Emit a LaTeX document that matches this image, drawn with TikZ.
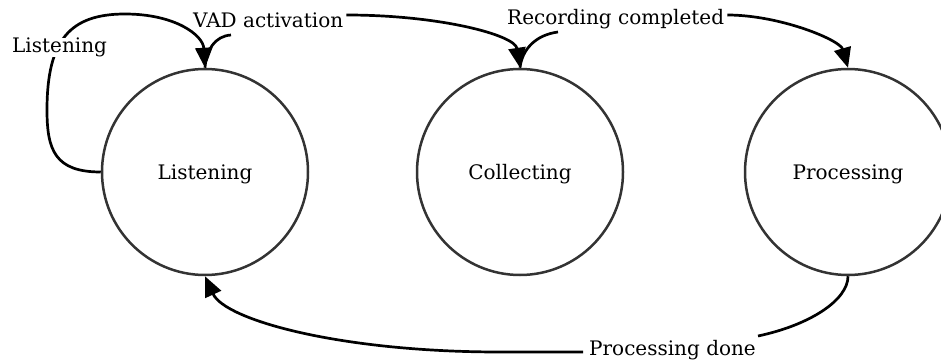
\documentclass[tikz,border=0pt]{standalone}
\usepackage{fontspec}
\setmainfont{DejaVu Serif}
\usetikzlibrary{arrows.meta}
\definecolor{stategray}{HTML}{333333}
\begin{document}
\begin{tikzpicture}[x=1pt,y=-1pt,
  font=\fontsize{20}{24}\selectfont,
  state/.style={circle,draw=stategray,line width=2.5pt,minimum size=206pt,
    inner sep=0pt,text height=16pt,text depth=0pt},
  trans/.style={line width=2.7pt,draw=black},
  tip/.style={-{Triangle[length=20pt,width=17pt]}},
  lbl/.style={inner sep=0pt,anchor=base west,fill=white}]
\useasboundingbox (0,0) rectangle (941,363);

% states
\node[state] (listen)  at (205,172) {Listening};
\node[state] (collect) at (520,172) {Collecting};
\node[state] (process) at (848,172) {Processing};

% self loop on Listening
\draw[trans,tip] (listen.west) .. controls (55,172) and (47,150) .. (47,110)
  .. controls (47,40) and (70,14) .. (125,14)
  .. controls (175,14) and (203,35) .. (listen.north);

% transition labels
\node[lbl] (loopl)  at (12,53)   {Listening};
\node[lbl] (vad)    at (193,28)  {VAD activation};
\node[lbl] (rec)    at (507,25)  {Recording completed};
\node[lbl] (pdone)  at (589,355) {Processing done};

% attachment points on the labels
\coordinate (vadin)   at ([shift={(38,7)}]vad.base west);
\coordinate (vadout)  at ([shift={(3,-13)}]vad.base east);
\coordinate (recin)   at ([shift={(51,7)}]rec.base west);
\coordinate (recout)  at ([shift={(3,-10)}]rec.base east);
\coordinate (pdin)    at ([shift={(2,-19)}]pdone.base east);
\coordinate (pdout)   at ([shift={(-6,-3)}]pdone.base west);

% Listening -> Collecting
\draw[trans] (listen.north) .. controls (206,50) and (215,36) .. (vadin);
\draw[trans,tip] (vadout) .. controls (440,15) and (515,35) .. (collect.north);

% Collecting -> Processing
\draw[trans] (collect.north) .. controls (522,50) and (535,35) .. (recin);
\draw[trans,tip] (recout) .. controls (780,15) and (840,40) .. (process.north);

% Processing -> Listening
\draw[trans] (process.south) .. controls (848,300) and (810,325) .. (pdin);
\draw[trans,tip] (pdout) -- (500,352) .. controls (340,352) and (225,320) .. (listen.south);
\end{tikzpicture}
\end{document}
